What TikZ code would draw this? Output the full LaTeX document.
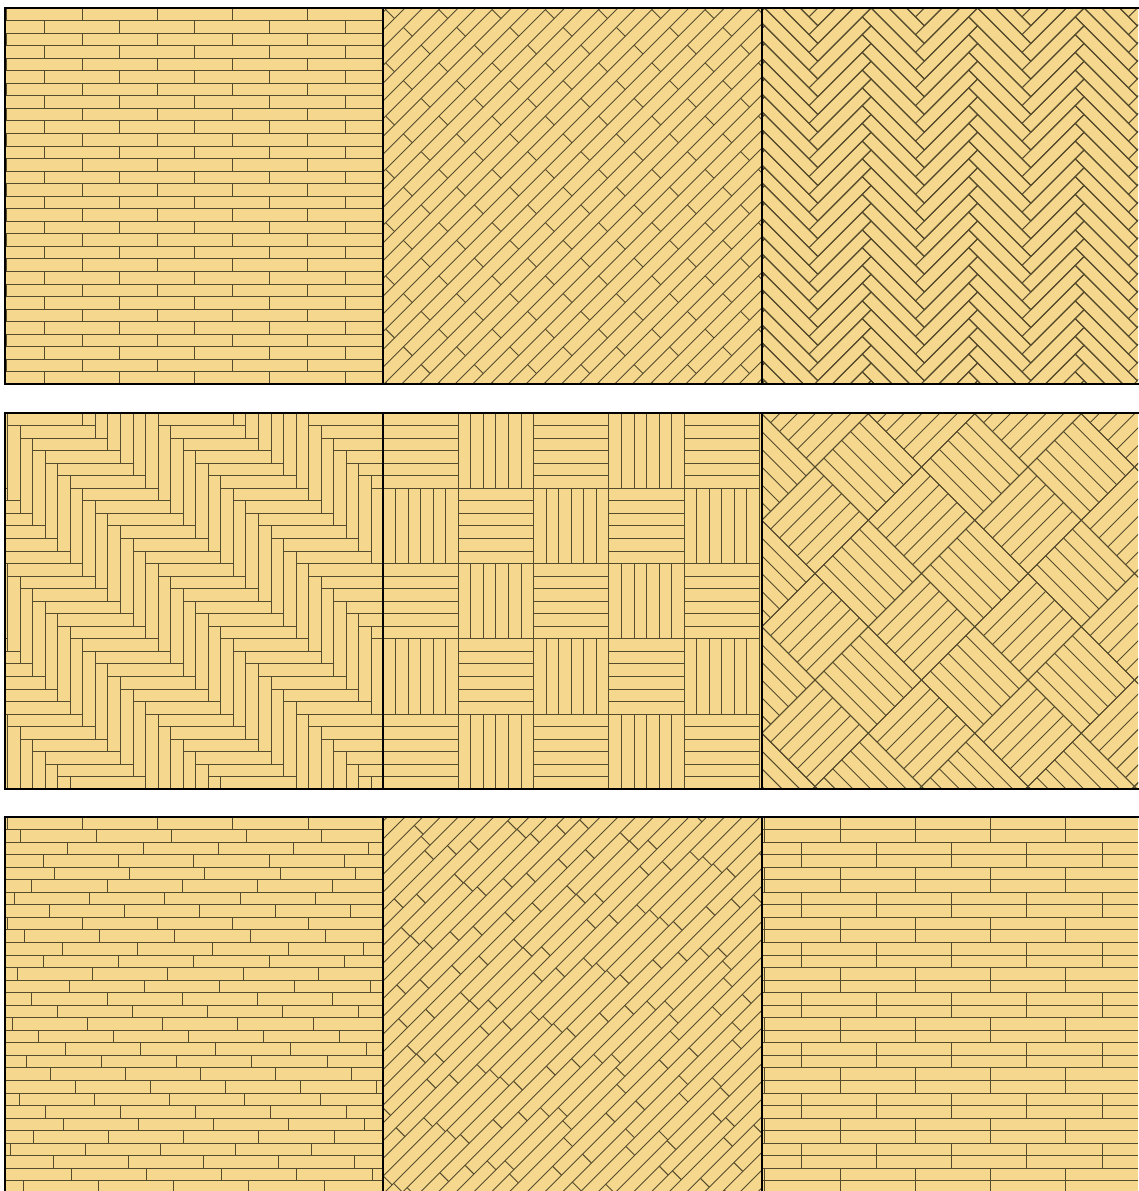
\documentclass[tikz,border=0pt]{standalone}
\begin{document}
\definecolor{wood}{RGB}{245,216,142}
\definecolor{seam}{RGB}{85,75,45}
\tikzset{
  plank/.style={draw=seam, line width=1pt},
  frame/.style={draw=black, line width=2.6pt},
}
\def\pwid{12.55}
\def\plen{75.3}
\begin{tikzpicture}[x=1pt,y=1pt]
\useasboundingbox (0,0) rectangle (1138,1191);
\fill[white] (0,0) rectangle (1138,1191);

% stretcher bond
\begin{scope}[shift={(5,1183)}]
  \clip (0,0) rectangle (378,-376);
  \fill[wood] (0,0) rectangle (378,-376);
  \foreach \r in {0,...,29}{
    \pgfmathsetmacro\off{mod(\r,2)==0 ? 1.7 : 39}
    \draw[plank] (0,-\r*\pwid) -- ++(378,0);
    \foreach \k in {0,...,5}
      \draw[plank] ({\off+\k*\plen},{-\r*\pwid}) -- ++(0,-\pwid);
  }
\end{scope}

% diagonal stretcher bond
\begin{scope}[shift={(383,1183)}]
  \clip (0,0) rectangle (379,-376);
  \fill[wood] (0,0) rectangle (379,-376);
  \begin{scope}[shift={(189,-188)},rotate=45]
    \foreach \r in {-23,...,22}{
      \pgfmathsetmacro\off{mod(\r,2)==0 ? 0 : 0.5*\plen}
      \draw[plank] (-280,\r*\pwid) -- (280,\r*\pwid);
      \foreach \k in {-4,...,3}
        \draw[plank] ({\off+\k*\plen},{\r*\pwid}) -- ++(0,\pwid);
    }
  \end{scope}
\end{scope}

% herringbone
\begin{scope}[shift={(762,1183)}]
  \clip (0,0) rectangle (376,-376);
  \fill[wood] (0,0) rectangle (376,-376);
  \begin{scope}[shift={(2.6,0)},rotate=-45]
    \foreach \m in {-3,...,6}
      \foreach \k in {-13,...,34}{
        \begin{scope}[shift={({\k*\pwid+\m*\plen},{-\k*\pwid+\m*\plen})}]
          \draw[plank] (0,0) rectangle (\plen,-\pwid)
            (\plen,-\pwid) rectangle (\plen+\pwid,\plen-\pwid);
        \end{scope}
      }
  \end{scope}
\end{scope}

% straight herringbone
\begin{scope}[shift={(5,778)}]
  \clip (0,0) rectangle (378,-376);
  \fill[wood] (0,0) rectangle (378,-376);
  \foreach \m in {-4,...,4}
    \foreach \k in {-8,...,32}{
      \begin{scope}[shift={({2.5+\k*\pwid+\m*\plen},{-\k*\pwid+\m*\plen})}]
        \draw[plank] (0,0) rectangle (\plen,-\pwid)
          (\plen,-\pwid) rectangle (\plen+\pwid,\plen-\pwid);
      \end{scope}
    }
\end{scope}

% basket weave
\begin{scope}[shift={(383,778)}]
  \clip (0,0) rectangle (379,-376);
  \fill[wood] (0,0) rectangle (379,-376);
  \foreach \i in {0,...,4}
    \foreach \j in {0,...,4}{
      \pgfmathtruncatemacro\horiz{mod(\i+\j,2)}
      \begin{scope}[shift={(\i*\plen,-\j*\plen-\plen)}]
        \draw[plank] (0,0) rectangle (\plen,\plen);
        \foreach \t in {1,...,5}{
          \ifnum\horiz=0 \draw[plank] (0,\t*\pwid) -- ++(\plen,0);
          \else \draw[plank] (\t*\pwid,0) -- ++(0,\plen); \fi
        }
      \end{scope}
    }
\end{scope}

% diagonal basket weave
\begin{scope}[shift={(762,778)}]
  \clip (0,0) rectangle (376,-376);
  \fill[wood] (0,0) rectangle (376,-376);
  \begin{scope}[shift={(53,-54)},rotate=45]
    \foreach \i in {-4,...,4}
      \foreach \j in {-7,...,1}{
        \pgfmathtruncatemacro\horiz{mod(abs(\i+\j),2)}
        \begin{scope}[shift={(\i*\plen,\j*\plen)}]
          \draw[plank] (0,0) rectangle (\plen,\plen);
          \foreach \t in {1,...,5}{
            \ifnum\horiz=0 \draw[plank] (0,\t*\pwid) -- ++(\plen,0);
            \else \draw[plank] (\t*\pwid,0) -- ++(0,\plen); \fi
          }
        \end{scope}
      }
  \end{scope}
\end{scope}

% random stretcher bond
\begin{scope}[shift={(5,374)}]
  \clip (0,0) rectangle (378,-376);
  \fill[wood] (0,0) rectangle (378,-376);
  \foreach \off [count=\r from 0] in {2,15.7,62.7,38.3,49.3,26.7,9.3,44.3,2,19.3,
      57.3,38.3,12.3,64,26.7,52,7,33,60,21,45,70,14,40,58,28,5,48,66,18}{
    \draw[plank] (0,-\r*\pwid) -- ++(378,0);
    \foreach \k in {0,...,5}
      \draw[plank] ({\off+\k*\plen},{-\r*\pwid}) -- ++(0,-\pwid);
  }
\end{scope}

% diagonal random stretcher bond
\pgfmathsetseed{11}
\begin{scope}[shift={(383,374)}]
  \clip (0,0) rectangle (379,-376);
  \fill[wood] (0,0) rectangle (379,-376);
  \begin{scope}[shift={(189,-188)},rotate=45]
    \foreach \r in {-23,...,22}{
      \pgfmathsetmacro\off{rnd*\plen}
      \draw[plank] (-280,\r*\pwid) -- (280,\r*\pwid);
      \foreach \k in {-4,...,3}
        \draw[plank] ({\off+\k*\plen},{\r*\pwid}) -- ++(0,\pwid);
    }
  \end{scope}
\end{scope}

% double stretcher bond
\begin{scope}[shift={(762,374)}]
  \clip (0,0) rectangle (376,-376);
  \fill[wood] (0,0) rectangle (376,-376);
  \foreach \c in {0,...,14}{
    \pgfmathsetmacro\off{mod(\c,2)==0 ? 2.7 : 39}
    \draw[plank] (0,-2*\c*\pwid) -- ++(376,0);
    \draw[plank] (0,-2*\c*\pwid-\pwid) -- ++(376,0);
    \foreach \k in {0,...,5}
      \draw[plank] ({\off+\k*\plen},{-2*\c*\pwid}) -- ++(0,-2*\pwid);
  }
\end{scope}

% frames
\foreach \y in {1183,778,374}
  \foreach \x/\wd in {5/378,383/379,762/380}
    \draw[frame] (\x,\y) rectangle ++(\wd,-376);
\end{tikzpicture}
\end{document}
